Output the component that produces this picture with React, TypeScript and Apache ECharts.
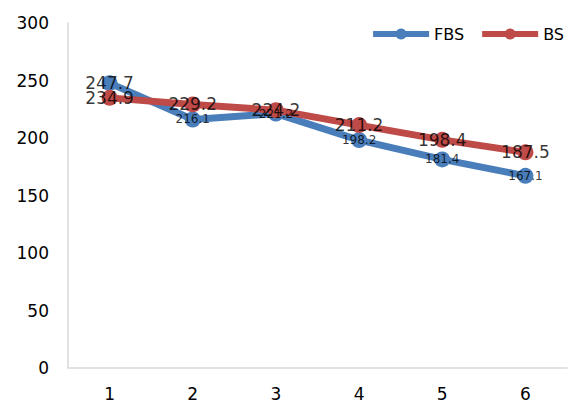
import React, { useEffect, useRef } from "react";
import * as echarts from "echarts";

const categories = ["1", "2", "3", "4", "5", "6"];
const fbsValues = [247.7, 216.1, 221.2, 198.2, 181.4, 167.1];
const bsValues = [234.9, 229.2, 224.2, 211.2, 198.4, 187.5];
const fbsLabelSizes = [17, 12, 12, 12, 12, 12];
const bsLabelSizes = [17, 17, 17, 17, 17, 17];

export default function App() {
  const ref = useRef<HTMLDivElement>(null);
  useEffect(() => {
    const chart = echarts.init(ref.current!, null, { renderer: "svg" });
    const font = "'DejaVu Sans', sans-serif";
    const labelSeries = (name: string, values: number[], sizes: number[]) => ({
      name: name + "-labels",
      type: "scatter",
      data: values.map((v, i) => ({ value: v, label: { fontSize: sizes[i] } })),
      symbolSize: 0,
      silent: true,
      z: 10,
      label: {
        show: true,
        position: "inside",
        color: "#000",
        fontFamily: font,
      },
    });
    chart.setOption({
      animation: false,
      textStyle: { fontFamily: font },
      legend: {
        top: 21,
        right: 7,
        itemWidth: 56,
        itemHeight: 14,
        itemGap: 15,
        lineStyle: { width: 6 },
        textStyle: { fontSize: 16, color: "#000", fontFamily: font },
        data: ["FBS", "BS"],
      },
      grid: { left: 68, right: 9, top: 23, bottom: 37 },
      xAxis: {
        type: "category",
        data: categories,
        boundaryGap: true,
        axisLine: { lineStyle: { color: "#d9d9d9", width: 1.5 } },
        axisTick: { show: false },
        axisLabel: { fontSize: 17, color: "#000", margin: 17, fontFamily: font },
      },
      yAxis: {
        type: "value",
        min: 0,
        max: 300,
        interval: 50,
        splitLine: { show: false },
        axisLine: { show: true, lineStyle: { color: "#d9d9d9", width: 1.5 } },
        axisTick: { show: false },
        axisLabel: { fontSize: 17, color: "#000", margin: 19, fontFamily: font },
      },
      series: [
        {
          name: "FBS",
          type: "line",
          data: fbsValues,
          color: "#4a7ebb",
          symbol: "circle",
          symbolSize: 16,
          lineStyle: { width: 7, color: "#4a7ebb" },
          itemStyle: { color: "#4a7ebb" },
          z: 2,
        },
        {
          name: "BS",
          type: "line",
          data: bsValues,
          color: "#be4b48",
          symbol: "circle",
          symbolSize: 16,
          lineStyle: { width: 7, color: "#be4b48" },
          itemStyle: { color: "#be4b48" },
          z: 3,
        },
        labelSeries("FBS", fbsValues, fbsLabelSizes),
        labelSeries("BS", bsValues, bsLabelSizes),
      ],
    });
    return () => chart.dispose();
  }, []);
  return <div ref={ref} style={{ width: 576, height: 405, position: "absolute", left: 0, top: 0 }} />;
}
